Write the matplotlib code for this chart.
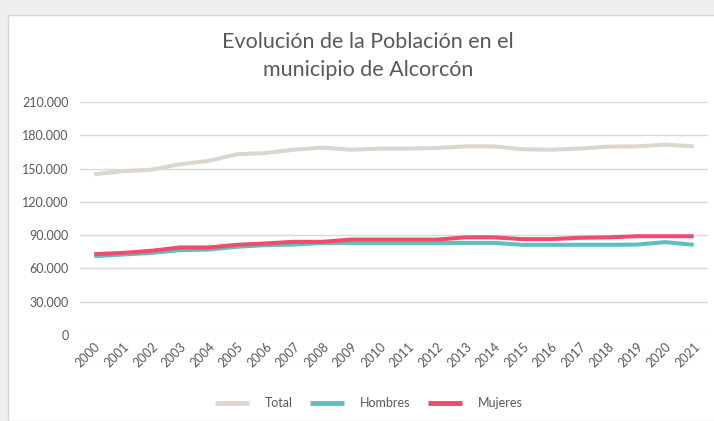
import matplotlib.pyplot as plt
from matplotlib.patches import Rectangle
from matplotlib.ticker import FuncFormatter, MultipleLocator

years = [str(y) for y in range(2000, 2022)]
total = [144900, 147600, 149000, 153900, 156900, 162900, 164000, 167000, 168900, 167000,
         168000, 168000, 168600, 170000, 170000, 167400, 167000, 168000, 169800, 170000,
         171600, 170000]
hombres = [71000, 72500, 74000, 76500, 77000, 79500, 81000, 81500, 83000, 83000,
           83000, 83000, 83000, 83000, 83000, 81300, 81300, 81300, 81300, 81500,
           83700, 81300]
mujeres = [72900, 74000, 75900, 78900, 78900, 81300, 82500, 84000, 84000, 86000,
           86000, 86000, 86000, 88000, 88000, 86400, 86400, 87600, 88000, 89000,
           89000, 89000]

series = [("Total", total, "#DDD6CF"),
          ("Hombres", hombres, "#5EBFBF"),
          ("Mujeres", mujeres, "#EF4B6B")]

plt.rcParams["font.family"] = ["Lato", "DejaVu Sans"]
txt = "#595959"

fig = plt.figure(figsize=(7.14, 4.21), dpi=100, facecolor="#efefef")
# white chart card
fig.patches.append(Rectangle((8 / 714, 0), 1, 1 - 15 / 421, transform=fig.transFigure,
                             facecolor="white", edgecolor="#d4d4d4", lw=1.0, zorder=-10))

ax = fig.add_axes([80 / 714, 1 - 335 / 421, 628 / 714, 233 / 421])
ax.set_zorder(2)
ax.set_facecolor("none")
x = range(len(years))
for name, vals, col in series:
    ax.plot(x, vals, color=col, lw=2.9, label=name, solid_capstyle="butt")

ax.set_xlim(-0.5, len(years) - 0.5)
ax.set_ylim(0, 210000)
ax.yaxis.set_major_locator(MultipleLocator(30000))
ax.yaxis.set_major_formatter(FuncFormatter(lambda v, p: f"{int(v):,}".replace(",", ".")))
ax.grid(axis="y", color="#d9d9d9", lw=1)
ax.set_axisbelow(True)
for s in ax.spines.values():
    s.set_visible(False)
ax.set_xticks(list(x))
ax.set_xticklabels(years, rotation=45, ha="right", rotation_mode="anchor")
ax.tick_params(axis="both", length=0, labelsize=9, colors=txt, pad=8)
ax.tick_params(axis="x", pad=4)

fig.text(368 / 714, 1 - 56 / 421, "Evolución de la Población en el\nmunicipio de Alcorcón",
         ha="center", va="center", fontsize=15.5, color=txt, linespacing=1.45)

leg = fig.legend(loc="center", bbox_to_anchor=(369 / 714, 1 - 403 / 421), ncol=3,
                 frameon=False, fontsize=9, handlelength=2.7, handletextpad=1.3,
                 columnspacing=1.4)
for t in leg.get_texts():
    t.set_color(txt)
for h in leg.get_lines():
    h.set_linewidth(3.5)

fig.savefig("out.png", dpi=100, facecolor=fig.get_facecolor())
